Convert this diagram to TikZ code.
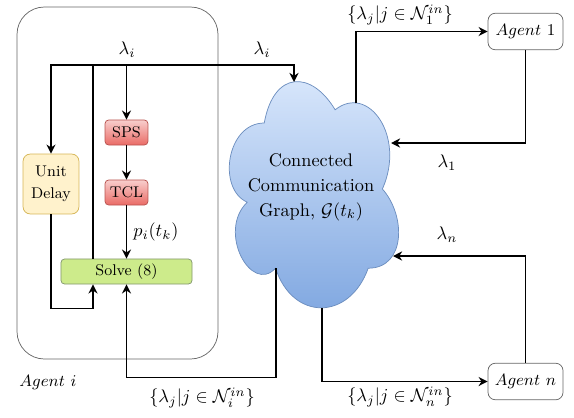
\documentclass[tikz,border=0pt]{standalone}
\usetikzlibrary{arrows.meta}
\definecolor{cloudtop}{HTML}{DAE8FC}
\definecolor{cloudbot}{HTML}{7EA6E0}
\definecolor{cloudline}{HTML}{6C8EBF}
\definecolor{redtop}{HTML}{F8CECC}
\definecolor{redbot}{HTML}{EA6B66}
\definecolor{redline}{HTML}{B85450}
\definecolor{delayfill}{HTML}{FFF2CC}
\definecolor{delayline}{HTML}{D6B656}
\definecolor{solvefill}{HTML}{CDEB8B}
\definecolor{solveline}{HTML}{82966E}
\definecolor{boxline}{HTML}{666666}
\begin{document}
\begin{tikzpicture}[x=0.547pt,y=0.547pt,
    arr/.style={thick,-{Stealth[length=5pt,width=5pt]}},
    wire/.style={thick},
    redbox/.style={draw=redline,top color=redtop,bottom color=redbot,rounded corners=2pt,
      minimum width=23.5pt,minimum height=13.7pt,inner sep=0pt,font=\fontsize{8.5}{10}\selectfont},
    agentbox/.style={draw=boxline,fill=white,rounded corners=4pt,minimum width=41pt,
      minimum height=20pt,inner sep=0pt,font=\fontsize{9}{11}\selectfont}]
  \useasboundingbox (0,0) rectangle (574,417);
  \draw[boxline,rounded corners=15pt] (17,58) rectangle (218,410);
  \node (agenti) at (48,35) {\fontsize{9.5}{11}\selectfont $Agent~i$};
  \path[draw=cloudline,top color=cloudtop,bottom color=cloudbot]
    (264.25,294) .. controls (226.45,294) and (217,228) .. (247.24,214.8)
    .. controls (217,185.76) and (251.02,122.4) .. (275.59,148.8)
    .. controls (292.6,96) and (349.3,96) .. (368.2,148.8)
    .. controls (406,148.8) and (406,201.6) .. (382.38,228)
    .. controls (406,280.8) and (368.2,333.6) .. (335.13,307.2)
    .. controls (311.5,346.8) and (273.7,346.8) .. (264.25,294) -- cycle;
  \node[align=center,font=\fontsize{10}{13.7}\selectfont] (graph) at (311,230)
    {Connected\\Communication\\Graph,~$\mathcal{G}(t_k)$};
  \node[draw=delayline,fill=delayfill,rounded corners=4pt,minimum width=30.6pt,minimum height=32.8pt,
    inner sep=0pt,align=center,font=\fontsize{8.5}{12}\selectfont] (ud) at (51,233) {Unit\\Delay};
  \node[redbox] (sps) at (126.5,284.5) {SPS};
  \node[redbox] (tcl) at (126.5,224.5) {TCL};
  \node[draw=solveline,fill=solvefill,rounded corners=2pt,minimum width=71.7pt,minimum height=13.7pt,
    inner sep=0pt,font=\fontsize{8.5}{10}\selectfont] (solve) at (126.5,145.5) {Solve (8)};
  \node[agentbox] (a1) at (525.5,385.5) {$Agent~1$};
  \node[agentbox] (an) at (525.5,35.5) {$Agent~n$};
  \coordinate (tap) at (93,352);
  \coordinate (cin) at (294,335);
  \coordinate (cl) at (276,149);
  \coordinate (ctr) at (356,314);
  \coordinate (cr1) at (391,274);
  \coordinate (cr2) at (393,161);
  \coordinate (cb) at (322,109);
  \draw[wire] (solve.north -| tap) -- (tap);
  \draw[arr] (tap) -| (ud.north);
  \draw[arr] (tap) -| (cin);
  \draw[arr] (sps.north |- tap) -- (sps.north);
  \draw[arr] (sps) -- (tcl);
  \draw[arr] (tcl) -- node[right] {$p_i(t_k)$} (solve);
  \draw[arr] (ud.south) |- ([yshift=-13.1pt]solve.south -| tap) -- (solve.south -| tap);
  \draw[arr] (cl) |- ([yshift=-51pt]solve.south) -- (solve.south);
  \draw[arr] (ctr) |- (a1.west);
  \draw[arr] (a1.south) |- (cr1);
  \draw[arr] (an.north) |- (cr2);
  \draw[arr] (cb) |- (an.west);
  \node (li1) at (127,367) {$\lambda_i$};
  \node (li2) at (262,367) {$\lambda_i$};
  \node (l1) at (447,254) {$\lambda_1$};
  \node (ln) at (447,182) {$\lambda_n$};
  \node (s1) at (400,402) {$\{\lambda_j | j\in\mathcal{N}_1^{in}\}$};
  \node (sn) at (400,20) {$\{\lambda_j | j\in\mathcal{N}_n^{in}\}$};
  \node (si) at (202,19) {$\{\lambda_j | j\in\mathcal{N}_i^{in}\}$};
\end{tikzpicture}
\end{document}
